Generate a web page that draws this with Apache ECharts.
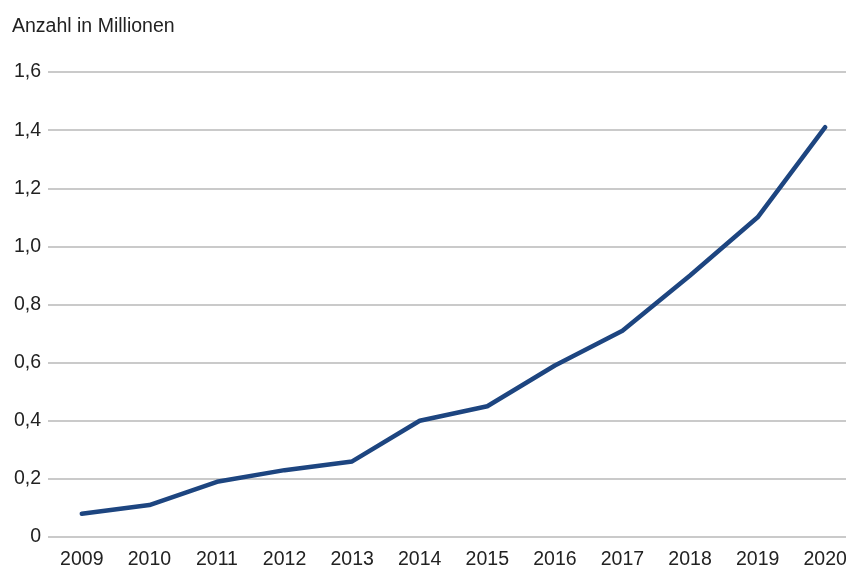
<!DOCTYPE html>
<html>
<head>
<meta charset="utf-8">
<script src="https://cdn.jsdelivr.net/npm/echarts@6/dist/echarts.min.js"></script>
<style>
  html, body { margin: 0; padding: 0; background: #fff; }
  #chart { width: 846px; height: 566px; }
</style>
</head>
<body>
<div id="chart"></div>
<script>
// Jahre und Anzahl (in Millionen)
const years = ['2009', '2010', '2011', '2012', '2013', '2014', '2015', '2016', '2017', '2018', '2019', '2020'];
const values = [0.08, 0.11, 0.19, 0.23, 0.26, 0.40, 0.45, 0.59, 0.71, 0.90, 1.10, 1.41];

const font = 'Liberation Sans, Arial, Helvetica, sans-serif';
const chart = echarts.init(document.getElementById('chart'));
chart.setOption({
  animation: false,
  title: {
    text: 'Anzahl in Millionen',
    left: 7,
    top: 12,
    textStyle: { fontFamily: font, fontSize: 19.5, fontWeight: 'normal', color: '#222' }
  },
  // the plot runs past the right edge of the canvas, labels may be clipped at the bottom
  grid: { left: 48, width: 811, top: 72, bottom: 29, outerBoundsMode: 'none', containLabel: false },
  xAxis: {
    type: 'category',
    data: years,
    boundaryGap: true,
    axisLine: { show: false },
    axisTick: { show: false },
    axisLabel: { margin: 13, fontFamily: font, fontSize: 19.5, color: '#222' }
  },
  yAxis: {
    type: 'value',
    min: 0,
    max: 1.6,
    interval: 0.2,
    axisLine: { show: false },
    axisTick: { show: false },
    splitLine: { lineStyle: { color: '#b9b9b9', width: 1.6 } },
    axisLabel: {
      margin: 7,
      fontFamily: font,
      fontSize: 19.5,
      color: '#222',
      formatter: v => v === 0 ? '0' : v.toFixed(1).replace('.', ',')
    }
  },
  series: [{
    type: 'line',
    data: values,
    showSymbol: false,
    lineStyle: { color: '#1d4580', width: 4.5, cap: 'round', join: 'round' }
  }]
});
</script>
</body>
</html>
